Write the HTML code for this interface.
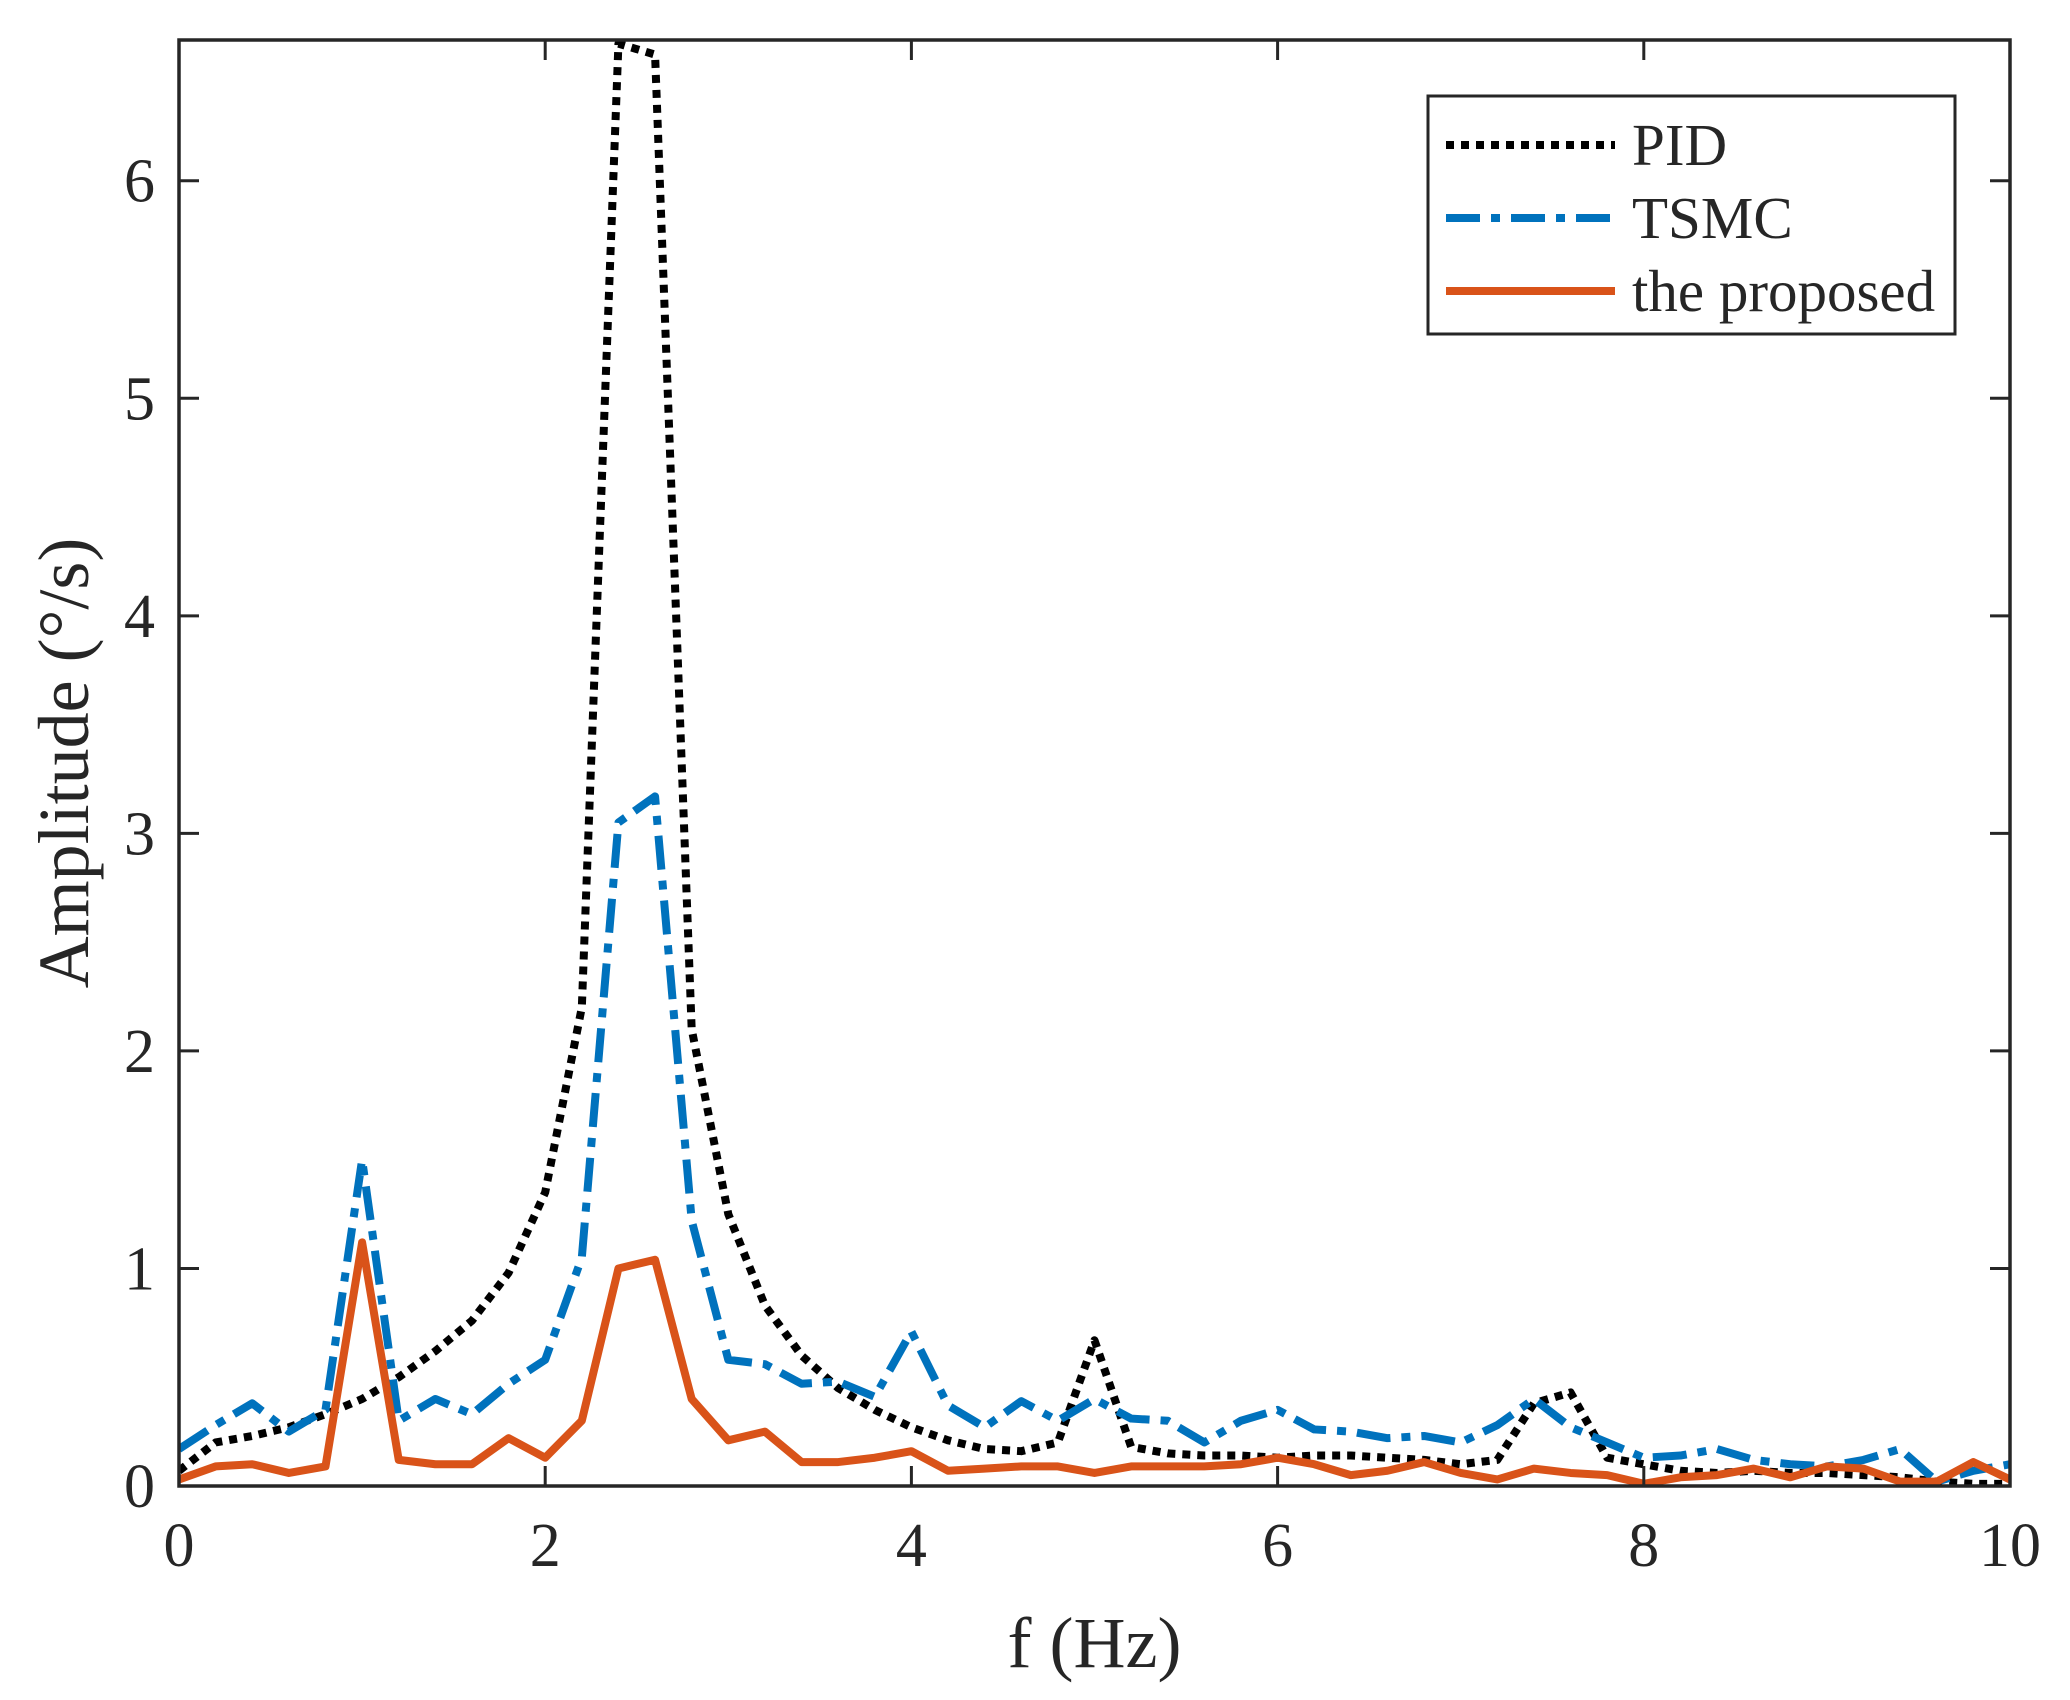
<!DOCTYPE html>
<html><head><meta charset="utf-8"><style>body{margin:0;background:#fff}svg{display:block}text{font-family:"Liberation Serif",serif;fill:#262626}</style></head>
<body>
<svg id="chart" width="2070" height="1700" viewBox="0 0 2070 1700" xmlns="http://www.w3.org/2000/svg"></svg>
<script>
const freqs=[0,0.2,0.4,0.6,0.8,1.0,1.2,1.4,1.6,1.8,2.0,2.2,2.4,2.6,2.8,3.0,3.2,3.4,3.6,3.8,4.0,4.2,4.4,4.6,4.8,5.0,5.2,5.4,5.6,5.8,6.0,6.2,6.4,6.6,6.8,7.0,7.2,7.4,7.6,7.8,8.0,8.2,8.4,8.6,8.8,9.0,9.2,9.4,9.6,9.8,10];
const pidValues=[0.07,0.2,0.23,0.27,0.33,0.4,0.5,0.62,0.76,0.98,1.35,2.2,6.63,6.58,2.1,1.25,0.83,0.6,0.45,0.35,0.27,0.21,0.17,0.16,0.2,0.67,0.18,0.15,0.14,0.14,0.13,0.14,0.14,0.13,0.12,0.1,0.12,0.38,0.43,0.13,0.1,0.07,0.06,0.07,0.06,0.06,0.05,0.04,0.02,0.01,0.01];
const tsmcValues=[0.17,0.28,0.38,0.25,0.35,1.5,0.3,0.4,0.33,0.47,0.58,1.05,3.05,3.17,1.22,0.58,0.56,0.47,0.48,0.41,0.71,0.37,0.27,0.39,0.3,0.4,0.31,0.3,0.2,0.3,0.35,0.26,0.25,0.22,0.23,0.2,0.28,0.4,0.27,0.2,0.13,0.14,0.17,0.12,0.1,0.09,0.12,0.17,0.02,0.07,0.1];
const proposedValues=[0.03,0.09,0.1,0.06,0.09,1.12,0.12,0.1,0.1,0.22,0.13,0.3,1.0,1.04,0.4,0.21,0.25,0.11,0.11,0.13,0.16,0.07,0.08,0.09,0.09,0.06,0.09,0.09,0.09,0.1,0.13,0.1,0.05,0.07,0.11,0.06,0.03,0.08,0.06,0.05,0.01,0.04,0.05,0.08,0.04,0.09,0.08,0.02,0.02,0.11,0.03];
const xTicks=[0,2,4,6,8,10];
const yTicks=[0,1,2,3,4,5,6];

const L=179,R=2010,T=40,B=1486,YMAX=6.647;
const sx=v=>L+(v/10)*(R-L);
const sy=v=>B-(v/YMAX)*(B-T);
const NS="http://www.w3.org/2000/svg";
const svg=document.getElementById('chart');
function mk(tag,attrs,parent){const e=document.createElementNS(NS,tag);for(const k in attrs)e.setAttribute(k,attrs[k]);(parent||svg).appendChild(e);return e;}

const clip=mk('clipPath',{id:'pc'});mk('rect',{x:L,y:T,width:R-L,height:B-T},clip);

const PIDDASH='8 7', TSMCDASH='34 11 9 11';
function series(vals,color,dash,name){
  const p=mk('polyline',{points:vals.map((v,i)=>sx(freqs[i])+','+sy(v)).join(' '),fill:'none',stroke:color,'stroke-width':8,'stroke-dasharray':dash,'clip-path':'url(#pc)','stroke-linejoin':'round'});
  
  
}
series(pidValues,'#000',PIDDASH,'pid-line');
series(tsmcValues,'#0072BD',TSMCDASH,'tsmc-line');
series(proposedValues,'#D95319','none','proposed-line');

const ax=mk('rect',{x:L,y:T,width:R-L,height:B-T,fill:'none',stroke:'#262626','stroke-width':3.5});


xTicks.forEach(t=>{const x=sx(t);
  mk('line',{x1:x,y1:B,x2:x,y2:B-20,stroke:'#262626','stroke-width':3});
  mk('line',{x1:x,y1:T,x2:x,y2:T+20,stroke:'#262626','stroke-width':3});
  const tx=mk('text',{x:x,y:B+80,'font-size':62,'text-anchor':'middle'});tx.textContent=t;
  
});
yTicks.forEach(t=>{const y=sy(t);
  mk('line',{x1:L,y1:y,x2:L+20,y2:y,stroke:'#262626','stroke-width':3});
  mk('line',{x1:R,y1:y,x2:R-20,y2:y,stroke:'#262626','stroke-width':3});
  const tx=mk('text',{x:L-24,y:y+21,'font-size':62,'text-anchor':'end'});tx.textContent=t;
  
});
const xt=mk('text',{x:(L+R)/2,y:1667,'font-size':72,'text-anchor':'middle'});xt.textContent='f (Hz)';

const yt=mk('text',{x:0,y:0,'font-size':72,'text-anchor':'middle',transform:'translate(88,'+((T+B)/2)+') rotate(-90)'});yt.textContent='Amplitude (°/s)';


const lg=mk('g',{});
mk('rect',{x:1428,y:96,width:527,height:238,fill:'#fff',stroke:'#262626','stroke-width':3},lg);
const items=[['PID','#000',PIDDASH],['TSMC','#0072BD',TSMCDASH],['the proposed','#D95319','none']];
items.forEach((it,i)=>{const y=145+i*73;
  const g=mk('g',{},lg);
  mk('line',{x1:1446,y1:y,x2:1615,y2:y,stroke:it[1],'stroke-width':8,'stroke-dasharray':it[2]},g);
  const t=mk('text',{x:1632,y:y+20,'font-size':59},g);t.textContent=it[0];
});
</script>
</body></html>
